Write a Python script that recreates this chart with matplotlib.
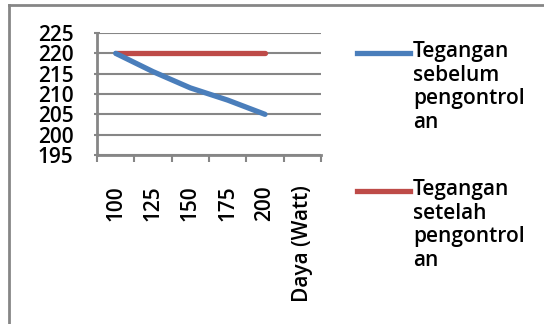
import matplotlib
matplotlib.use("Agg")
import matplotlib.pyplot as plt
from matplotlib.lines import Line2D

# data
kategori = ["100", "125", "150", "175", "200", "Daya (Watt)"]
daya = ["100", "125", "150", "175", "200"]
tegangan_sebelum = [220, 215.5, 211.5, 208.5, 205]
tegangan_setelah = [220, 220, 220, 220, 220]
label_sebelum = "Tegangan\nsebelum\npengontrol\nan"
label_setelah = "Tegangan\nsetelah\npengontrol\nan"
y_ticks = [195, 200, 205, 210, 215, 220, 225]

W, H = 544, 324
plt.rcParams['font.family'] = ['Open Sans', 'DejaVu Sans']
plt.rcParams['font.weight'] = 'semibold'

fig = plt.figure(figsize=(W / 100, H / 100), dpi=100)
ax = fig.add_axes([97 / W, 1 - 155 / H, (321 - 97) / W, (155 - 33) / H])

grey = '#868686'
blue = '#4A7EBB'
red = '#BE4B48'

x = list(range(len(daya)))
ax.plot(x, tegangan_setelah, color=red, lw=3.8, solid_capstyle='round', zorder=3)
ax.plot(x, tegangan_sebelum, color=blue, lw=3.8, solid_capstyle='round', zorder=4)

ax.set_xlim(-0.5, len(kategori) - 0.5)
ax.set_ylim(195, 225)
ax.set_yticks(y_ticks)
ax.set_yticklabels([str(v) for v in y_ticks], fontsize=15)
ax.set_xticks([i - 0.5 for i in range(len(kategori) + 1)])
ax.set_xticklabels([])
ax.set_xticks(range(len(kategori)), minor=True)
ax.set_xticklabels(kategori, minor=True, rotation=90, fontsize=15)
ax.tick_params(axis='x', which='minor', length=0, pad=22)
ax.tick_params(axis='x', which='major', length=5, width=1.5, color=grey, direction='out')
ax.tick_params(axis='y', length=4, width=1.5, color=grey, direction='inout', pad=15)

ax.grid(axis='y', color=grey, lw=1.5)
ax.set_axisbelow(True)
for s in ['top', 'right']:
    ax.spines[s].set_visible(False)
for s in ['left', 'bottom']:
    ax.spines[s].set_color(grey)
    ax.spines[s].set_linewidth(2)

# legend, handle aligned with first text line
for lbl, col, ypx in [(label_sebelum, blue, 53), (label_setelah, red, 191)]:
    yf = 1 - ypx / H
    fig.add_artist(Line2D([357 / W, 410 / W], [yf, yf], color=col, lw=3.8))
    fig.text(413 / W, yf + 12 / H, lbl, fontsize=15, va='top', ha='left', linespacing=1.17)

# chart frame
fig.add_artist(Line2D([9 / W, 9 / W], [0, 1 - 5 / H], color=grey, lw=2))
fig.add_artist(Line2D([9 / W, 1], [1 - 5 / H, 1 - 5 / H], color=grey, lw=2))

fig.savefig("out.png", dpi=100)
